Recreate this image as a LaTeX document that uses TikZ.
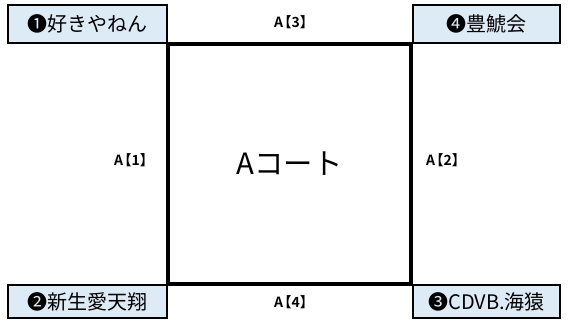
\documentclass[tikz,border=0pt]{standalone}
\usepackage{fontspec}
\setmainfont{Noto Sans CJK JP}[BoldFont={Noto Sans CJK JP Bold}]
\usepackage{xcolor}
\usetikzlibrary{positioning}
\definecolor{teamfill}{HTML}{DDEBF7}
\newcommand{\sidelabel}[1]{A\hspace{-.4em}【#1】\hspace{-.4em}}

\begin{document}
\begin{tikzpicture}[x=0.75pt, y=-0.75pt,
  team/.style={draw, line width=1.1pt, fill=teamfill, minimum height=28.5pt, minimum width=119.25pt, inner sep=0pt, font=\fontsize{15}{17}\selectfont},
  court/.style={draw, line width=2.6pt, minimum width=182.25pt, minimum height=180pt, inner sep=0pt, font=\fontsize{22}{26}\selectfont},
  side/.style={font=\bfseries\fontsize{10.5}{12}\selectfont}]

  \useasboundingbox (0,0) rectangle (568,325);

  % court
  \node[court] (ac) at (289.5,164) {Aコート};

  % teams at the corners
  \node[team] (t1) at (87.5,24) {❶好きやねん};
  \node[team, minimum width=110.25pt] (t4) at (486.5,24) {❹豊鯱会};
  \node[team, minimum height=24.75pt] (t2) at (87.5,301.5) {❷新生愛天翔};
  \node[team, minimum height=24.75pt, minimum width=110.25pt] (t3) at (486.5,301.5) {❸CDVB.海猿};

  % sides
  \node[side] (s3) at (294,22) {\sidelabel{3}};
  \node[side] (s4) at (294,302) {\sidelabel{4}};
  \node[side] (s1) at (134,160) {\sidelabel{1}};
  \node[side] (s2) at (446,160) {\sidelabel{2}};
\end{tikzpicture}
\end{document}
